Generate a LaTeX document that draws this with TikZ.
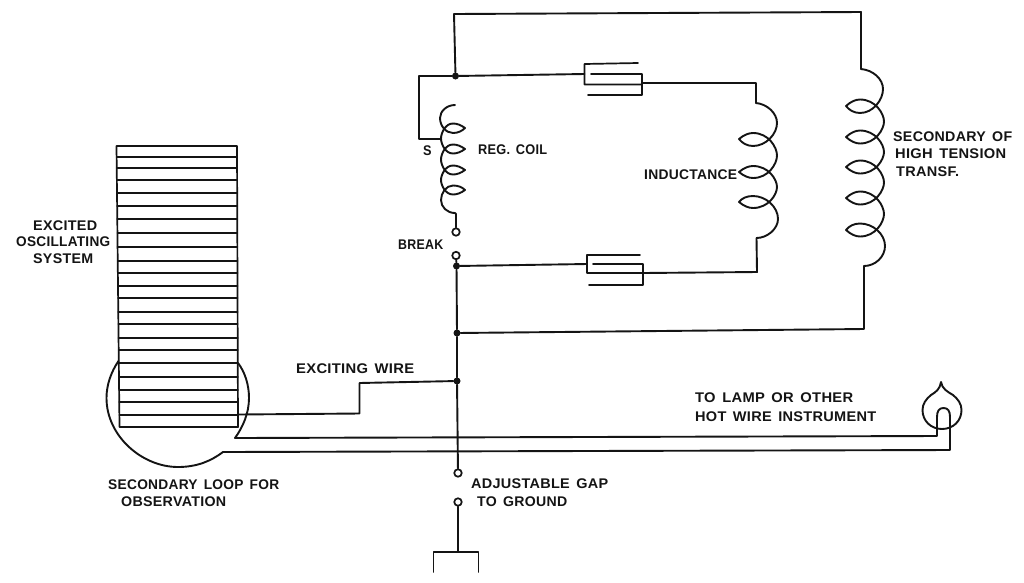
\documentclass[tikz,border=0pt]{standalone}
\usepackage{graphicx}
\usepackage{fontspec}
\setmainfont[LetterSpace=2,WordSpace=1.5]{Liberation Sans}
\newcommand{\fitw}[2]{\resizebox{#1pt}{\height}{\bfseries #2}}
\newcommand{\coilturn}[6]{% tip peak bulge y1 y2 lens
  \draw[wire] (#1,#4) .. controls ({#1+(#2-#1)*0.35},#4-#6*0.7) and ({#2-(#2-#1)*0.3},#4-#6) .. (#2,#4-#6)
    .. controls ({#2+(#3-#2)*0.65},#4-#6) and (#3,{(#4+#5)/2-(#5-#4)*0.25}) .. (#3,{(#4+#5)/2})
    .. controls (#3,{(#4+#5)/2+(#5-#4)*0.25}) and ({#2+(#3-#2)*0.65},#5+#6) .. (#2,#5+#6)
    .. controls ({#2-(#2-#1)*0.3},#5+#6) and ({#1+(#2-#1)*0.35},#5+#6*0.7) .. (#1,#5);
}
\tikzset{
  wire/.style={line width=1.9pt,black!92,line cap=round,line join=round},
  thinwire/.style={line width=1.7pt,black!92,line cap=round,line join=round},
  junction/.style={circle,fill=black!92,inner sep=0pt,minimum size=7pt},
  terminal/.style={circle,draw=black!92,line width=1.7pt,fill=white,inner sep=0pt,minimum size=7.5pt},
  lab/.style={anchor=west,inner sep=0pt,font=\fontsize{14}{16}\selectfont,text=black!92},
}
\begin{document}
\begin{tikzpicture}[x=1pt,y=-1pt]
\useasboundingbox[fill=white] (0,0) rectangle (1024,582);
% named points
\node[junction] (jtop) at (455.5,76) {};
\node[junction] (jbrk) at (456.5,266) {};
\node[junction] (jsec) at (457,333) {};
\node[junction] (jexc) at (457,381) {};
\node[terminal] (tb1) at (456,232) {};
\node[terminal] (tb2) at (456,255.5) {};
\node[terminal] (tg1) at (458,473) {};
\node[terminal] (tg2) at (458,502) {};
\coordinate (c1tl) at (454,14);
\coordinate (c1tr) at (861,12);
\coordinate (c1s) at (861,69);
\coordinate (c1e) at (864,266);
\coordinate (c1b) at (864,329);
\coordinate (regl) at (419,76);
\coordinate (regb) at (419,139);
\coordinate (regt) at (441,139);
\coordinate (rege) at (456,214);
\coordinate (capAin) at (584.5,74);
\coordinate (capAout) at (642,83);
\coordinate (indT) at (756,83);
\coordinate (indS) at (756,103);
\coordinate (indE) at (756.5,238);
\coordinate (indB) at (757,272);
\coordinate (capBout) at (643,273);
\coordinate (capBin) at (587,264);
\coordinate (gnd) at (458,552);
\coordinate (gndL) at (433.5,552);
\coordinate (gndR) at (478.5,552);
\coordinate (gndLb) at (433.5,572);
\coordinate (gndRb) at (478.5,572);
\coordinate (exA) at (359.5,383);
\coordinate (exB) at (359.5,413.5);
\coordinate (exC) at (238,414.5);
\coordinate (lpU) at (235,438);
\coordinate (lpL) at (223,452);
\coordinate (lampUa) at (937,436);
\coordinate (lampUb) at (937,417);
\coordinate (lampLa) at (950,417);
\coordinate (lampLb) at (950,450);
% high tension loop
\draw[wire] (c1s) -- (c1tr) -- (c1tl) -- (jtop);
\draw[wire] (jsec) -- (c1b) -- (c1e);
% secondary coil
\draw[wire] (c1s) .. controls (873,70) and (883,79) .. (883,89) .. controls (883,100) and (873,113) .. (860,113) .. controls (854,113) and (849,110) .. (846,106);
\coilturn{846}{860}{884}{106}{137}{6.5}
\coilturn{846}{860}{884}{137}{167}{6.5}
\coilturn{846}{860}{884}{167}{198}{6.5}
\coilturn{846}{860}{884}{198}{230}{6.5}
\draw[wire] (846,230) .. controls (849,226) and (854,223.5) .. (860,223.5) .. controls (873,223.5) and (885,234) .. (885,246) .. controls (885,257) and (875,266) .. (c1e);
% reg coil branch
\draw[wire] (jtop) -- (regl) -- (regb) -- (regt);
\draw[wire] (455,105) .. controls (447,105) and (440,111) .. (440,118) .. controls (440,126) and (446,133) .. (453,133) .. controls (458,133) and (462,131) .. (465,128);
\coilturn{465}{453}{441}{128}{149}{4.5}
\coilturn{465}{453}{441}{149}{170}{4.5}
\coilturn{465}{453}{441}{170}{190}{4.5}
\draw[wire] (465,190) .. controls (462,187) and (458,185.5) .. (453,185.5) .. controls (446,185.5) and (441,193) .. (441,200) .. controls (441,207) and (447,213) .. (455,213) -- (rege) -- (tb1);
% capacitor A
\draw[wire] (jtop) -- (capAin);
\draw[thinwire] (638,63) -- (584.5,64) -- (584.5,84.5) -- (642,84.5);
\draw[thinwire] (591,74) -- (642,74) -- (642,95) -- (588,95);
\draw[wire] (capAout) -- (indT) -- (indS);
% inductance coil
\draw[wire] (indS) .. controls (767,104) and (777,113) .. (777,123) .. controls (777,134) and (766,146) .. (753,146) .. controls (747,146) and (742,143) .. (739,139);
\coilturn{739}{753}{777}{139}{172}{6}
\coilturn{739}{753}{777}{172}{202}{6}
\draw[wire] (739,202) .. controls (742,198) and (747,196) .. (753,196) .. controls (766,196) and (778,207) .. (778,219) .. controls (778,229) and (767,238) .. (indE) -- (indB) -- (capBout);
% capacitor B
\draw[thinwire] (640,255) -- (587,255) -- (587,273) -- (643,273);
\draw[thinwire] (593,264) -- (643,264) -- (643,285) -- (589,285);
\draw[wire] (jbrk) -- (capBin);
% main vertical
\draw[wire] (tb2) -- (jbrk) -- (jsec) -- (jexc) -- (tg1);
\draw[wire] (tg2) -- (gnd);
\draw[wire] (gndLb) -- (gndL) -- (gndR) -- (gndRb);
% stack
\draw[thinwire] (116.5,146) -- (237,146) -- (238,427) -- (119.5,427) -- cycle;
\foreach \ya in {157,168,180,193,206,219,233,247,261,273,286,298,312,324,338,350,363,377,390,402,415}
  \draw[thinwire] ({116.5+(\ya-146)*0.0107},\ya) -- ({237+(\ya-146)*0.0036},\ya);
% exciting wire
\draw[wire] (jexc) -- (exA) -- (exB) -- (exC);
% secondary loop
\draw[wire] (118.5,361) .. controls (111,372) and (106.5,385) .. (106.5,398) .. controls (106.5,436) and (142,467) .. (178,467) .. controls (197,467) and (211,461) .. (lpL);
\draw[wire] (238,363) .. controls (245,372) and (249,385) .. (249,398) .. controls (249,413) and (243,427) .. (lpU);
\draw[wire] (lpU) -- (lampUa) -- (lampUb) .. controls (937,411) and (939,408) .. (943.5,408) .. controls (948,408) and (950,411) .. (lampLa) -- (lampLb) -- (lpL);
% lamp
\draw[wire] (941,382) .. controls (942,389) and (948,392) .. (953,395) .. controls (958,399) and (961.5,404) .. (961.5,410) .. controls (961.5,421) and (953,429) .. (942,429) .. controls (931,429) and (922.5,421) .. (922.5,410) .. controls (922.5,404) and (926,399) .. (931,395) .. controls (936,392) and (940,389) .. (941,382);
% labels
\node[lab] (l1) at (478,150) {\fitw{69}{REG. COIL}};
\node[lab] (l2) at (423,151) {\fitw{8.5}{S}};
\node[lab] (l3) at (398,245) {\fitw{45}{BREAK}};
\node[lab] (l4) at (644,175) {\fitw{93}{INDUCTANCE}};
\node[lab] (l5) at (893,137) {\fitw{119}{SECONDARY OF}};
\node[lab] (l6) at (895,154) {\fitw{111}{HIGH TENSION}};
\node[lab] (l7) at (896,172) {\fitw{63}{TRANSF.}};
\node[lab] (l8) at (296,369) {\fitw{118}{EXCITING WIRE}};
\node[lab] (l9) at (695,398) {\fitw{158}{TO LAMP OR OTHER}};
\node[lab] (l10) at (695,417) {\fitw{181}{HOT WIRE INSTRUMENT}};
\node[lab] (l11) at (108,485) {\fitw{171}{SECONDARY LOOP FOR}};
\node[lab] (l12) at (121,502) {\fitw{105}{OBSERVATION}};
\node[lab] (l13) at (471,484) {\fitw{137}{ADJUSTABLE GAP}};
\node[lab] (l14) at (477,502) {\fitw{90}{TO GROUND}};
\node[lab] (l15) at (33,226) {\fitw{64}{EXCITED}};
\node[lab] (l16) at (16,242) {\fitw{94}{OSCILLATING}};
\node[lab] (l17) at (33,259) {\fitw{60}{SYSTEM}};
\end{tikzpicture}
\end{document}
